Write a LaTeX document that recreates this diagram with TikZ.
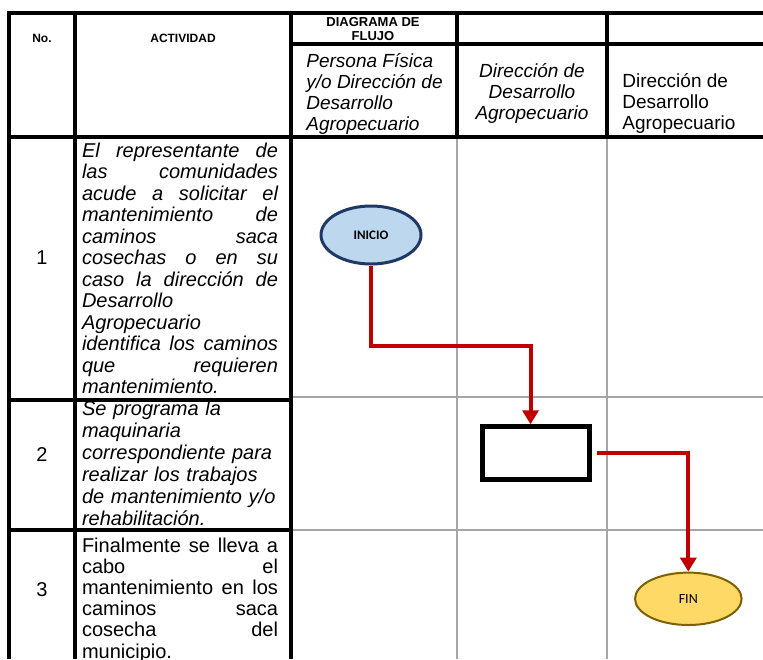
\documentclass[tikz,border=0pt]{standalone}
\usepackage{fontspec}
\setmainfont{Liberation Sans}
\newfontfamily\calibri{Carlito}
\usetikzlibrary{shapes.geometric}
\usetikzlibrary{arrows.meta}
\definecolor{flowred}{RGB}{192,0,0}
\definecolor{lanegrey}{RGB}{166,166,166}
\definecolor{inicioblue}{RGB}{189,215,238}
\definecolor{inicionavy}{RGB}{31,56,100}
\definecolor{finyellow}{RGB}{255,217,102}
\definecolor{finbrown}{RGB}{127,96,0}
\hyphenpenalty=10000
\tolerance=10000
\hbadness=10000

\begin{document}
\begin{tikzpicture}[x=0.5pt,y=-0.5pt,
  font=\fontsize{10}{10.8}\selectfont,
  rule/.style={line width=2pt},
  lane/.style={lanegrey,line width=1pt},
  head/.style={font=\fontsize{6}{6.8}\selectfont\bfseries,align=center},
  lanehead/.style={font=\fontsize{9.5}{10.5}\selectfont,inner sep=0pt},
  act/.style={text width=98pt,inner sep=0pt},
  flow/.style={flowred,line width=2pt,-{Triangle[length=7pt,width=8pt]}}]
\useasboundingbox (0,0) rectangle (763,659);
\draw[lane] (457,137) -- (457,659);
\draw[lane] (607,137) -- (607,659);
\draw[lane] (291,397) -- (763,397);
\draw[lane] (291,530) -- (763,530);
\draw[rule] (763,13) -- (9,13) -- (9,659);
\draw[rule] (75,13) -- (75,659);
\draw[rule] (291,13) -- (291,659);
\draw[rule] (457,13) -- (457,137);
\draw[rule] (607,13) -- (607,137);
\draw[rule] (291,44) -- (763,44);
\draw[rule] (9,137) -- (763,137);
\draw[rule] (9,399.5) -- (291,399.5);
\draw[rule] (9,530) -- (291,530);

\node[head] (no) at (42,38) {No.};
\node[head] (actividad) at (183,38) {ACTIVIDAD};
\node[head,font=\fontsize{6.5}{7.2}\selectfont\bfseries] (diagrama) at (373,29) {DIAGRAMA DE\\FLUJO};
\node[lanehead,font=\fontsize{9.5}{10.5}\selectfont\itshape,align=left,anchor=west] (persona) at (306,93.5) {Persona Física\\y/o Dirección de\\Desarrollo\\Agropecuario};
\node[lanehead,font=\fontsize{9.5}{10.5}\selectfont\itshape,align=center] (direccion) at (532,93) {Dirección de\\Desarrollo\\Agropecuario};
\node[lanehead,align=left,anchor=west] (direccionb) at (622,103.5) {Dirección de\\Desarrollo\\Agropecuario};

\node (n1) at (42,258) {1};
\node (n2) at (42,455) {2};
\node (n3) at (42,590) {3};
\node[act,align=justify,font=\fontsize{10}{10.75}\selectfont\itshape] (act1) at (180,268.5) {El representante de\linebreak las comunidades\linebreak acude a solicitar el\linebreak mantenimiento de\linebreak caminos saca\linebreak cosechas o en su\linebreak caso la dirección de\linebreak Desarrollo\linebreak Agropecuario\linebreak identifica los caminos\linebreak que requieren\linebreak mantenimiento.};
\node[act,align=left,font=\fontsize{10}{11}\selectfont\itshape] (act2) at (180,463) {Se programa la\\maquinaria\\correspondiente para\\realizar los trabajos\\de mantenimiento y/o\\rehabilitación.};
\node[act,align=justify,font=\fontsize{10}{10.6}\selectfont] (act3) at (180,600) {Finalmente se lleva a\linebreak cabo el\linebreak mantenimiento en los\linebreak caminos saca\linebreak cosecha del\linebreak municipio.};

\node[ellipse,draw=inicionavy,fill=inicioblue,line width=1.5pt,minimum width=50pt,minimum height=29pt,inner sep=0pt,font=\calibri\bfseries\fontsize{6.5}{7}\selectfont] (inicio) at (371,235) {INICIO};
\node[draw=black,line width=2.5pt,minimum width=53.5pt,minimum height=26.5pt,inner sep=0pt] (proceso) at (535.5,453.3) {};
\node[ellipse,draw=finbrown,fill=finyellow,line width=1pt,minimum width=53.3pt,minimum height=26.2pt,inner sep=0pt,font=\calibri\fontsize{7}{8}\selectfont] (fin) at (688.3,598.8) {FIN};

\draw[flow] (inicio.south) -- ++(0,80) -| ([xshift=-2.5pt]proceso.north);
\draw[flow] ([xshift=2.5pt]proceso.east) -| (fin.north);
\end{tikzpicture}
\end{document}
